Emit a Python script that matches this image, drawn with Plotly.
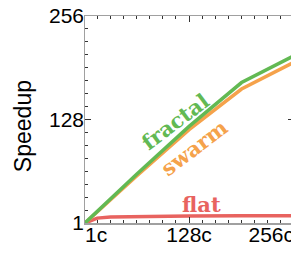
import plotly.graph_objects as go

cores = [1, 16, 32, 64, 128, 192, 256]
fractal = [1, 15.5, 30.5, 61, 120, 174, 207]
swarm = [1, 15, 30, 59, 116, 166, 199]
flat = [1, 7, 8.3, 9, 9.5, 10, 10]

y_tickvals = [1, 128, 256]
y_ticktext = ["1", "128", "256"]
x_first, x_mid, x_last = 1, 128, 256
x_labels = ["1c", "128c", "256c"]
minor_step = 16

GREEN = "#62b953"
ORANGE = "#f5a24b"
RED = "#e8635f"
AXIS_GRAY = "#a0a0a0"
TICK = "#333333"
SANS = "Liberation Sans, Arial, sans-serif"
SERIF = "DejaVu Serif, serif"

fig = go.Figure()
for name, vals, col in [("flat", flat, RED), ("swarm", swarm, ORANGE), ("fractal", fractal, GREEN)]:
    fig.add_trace(go.Scatter(x=cores, y=vals, mode="lines", name=name,
                             line=dict(color=col, width=3.5), showlegend=False))
# empty traces so the overlay (label / long-tick) axes are drawn
for xa, ya in [("x2", "y"), ("x3", "y"), ("x4", "y"), ("x", "y2")]:
    fig.add_trace(go.Scatter(x=[], y=[], xaxis=xa, yaxis=ya, showlegend=False, hoverinfo="skip"))

# in-plot series labels
fig.add_annotation(x=111, y=126.6, text="<b>fractal</b>", textangle=-37, showarrow=False,
                   font=dict(family=SERIF, size=21, color=GREEN))
fig.add_annotation(x=135, y=93.4, text="<b>swarm</b>", textangle=-37, showarrow=False,
                   font=dict(family=SERIF, size=21, color=ORANGE))
fig.add_annotation(x=143.6, y=23.2, text="<b>flat</b>", showarrow=False,
                   font=dict(family=SERIF, size=21, color=RED))
fig.add_annotation(x=-0.2986, xref="x domain", xanchor="center", y=0.466, yref="y domain",
                   yanchor="middle", text="Speedup", textangle=-90, showarrow=False,
                   font=dict(family=SANS, size=23, color="black"))

lab_font = dict(family=SANS, size=21, color="black")
common_x = dict(range=[1, 256], showgrid=False, zeroline=False)
fig.update_layout(
    width=300, height=254,
    margin=dict(l=85, r=4, t=16, b=31),
    plot_bgcolor="white", paper_bgcolor="white",
    # main x: short ticks every 16, frame line
    xaxis=dict(**common_x, tickmode="linear", tick0=0, dtick=minor_step,
               ticks="inside", ticklen=3, tickcolor=TICK, tickwidth=1, showticklabels=False,
               showline=True, linecolor=AXIS_GRAY, linewidth=1.5, mirror="ticks"),
    # 128c with long tick
    xaxis2=dict(**common_x, overlaying="x", anchor="y", side="bottom",
                tickmode="array", tickvals=[x_mid], ticktext=[x_labels[1]],
                ticks="inside", ticklen=6, tickcolor=TICK, tickwidth=1, mirror="ticks",
                showline=False, tickfont=lab_font, ticklabelstandoff=-3),
    xaxis3=dict(**common_x, overlaying="x", anchor="y", side="bottom",
                tickmode="array", tickvals=[x_first], ticktext=[x_labels[0]], ticks="", showline=False,
                ticklabelposition="outside right", tickfont=lab_font, ticklabelstandoff=-3),
    xaxis4=dict(**common_x, overlaying="x", anchor="y", side="bottom",
                tickmode="array", tickvals=[x_last], ticktext=[x_labels[2]], ticks="", showline=False,
                ticklabelposition="outside left", tickfont=lab_font, ticklabelstandoff=-3),
    yaxis=dict(range=[1, 256], tickmode="linear", tick0=0, dtick=minor_step,
               showgrid=False, zeroline=False, showticklabels=False,
               ticks="inside", ticklen=3, tickcolor=TICK, tickwidth=1,
               showline=True, linecolor=AXIS_GRAY, linewidth=1.5, mirror="ticks"),
    yaxis2=dict(range=[1, 256], overlaying="y", anchor="x", side="left",
                tickmode="array", tickvals=y_tickvals, ticktext=y_ticktext,
                showgrid=False, zeroline=False, showline=False,
                ticks="inside", ticklen=6, tickcolor=TICK, tickwidth=1, mirror="ticks",
                tickfont=lab_font),
)

fig.write_html("out.html", config={"displayModeBar": False, "staticPlot": True},
               post_script="document.body.style.margin='0';document.body.style.padding='0';"
                           "document.documentElement.style.overflow='hidden';document.body.style.overflow='hidden';")
